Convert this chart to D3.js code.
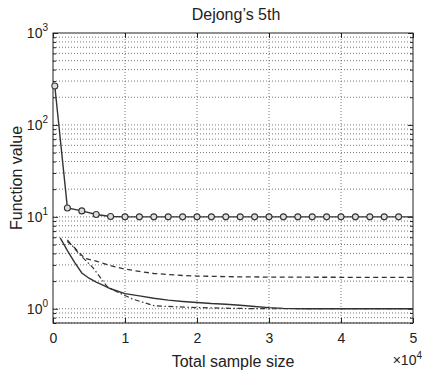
<!DOCTYPE html>
<html>
<head>
<meta charset="utf-8">
<script src="https://cdn.jsdelivr.net/npm/d3@7"></script>
<style>
  body { margin: 0; background: #fff; }
  svg text { font-family: "Liberation Sans", Arial, sans-serif; fill: #222; }
</style>
</head>
<body>
<svg id="chart"></svg>
<script>
// Dejong's 5th - function value vs total sample size
const circleX = [250, 2000, 4000, 6000, 8000, 10000, 12000, 14000, 16000, 18000, 20000, 22000, 24000,
                 26000, 28000, 30000, 32000, 34000, 36000, 38000, 40000, 42000, 44000, 46000, 48000, 50000];
const circleY = [265, 12.5, 11.6, 10.6, 10.1, 10, 10, 10, 10, 10, 10, 10, 10,
                 10, 10, 10, 10, 10, 10, 10, 10, 10, 10, 10, 10, 10];

const solidX = [1000, 2000, 3000, 4000, 5000, 6000, 7000, 8000, 9000, 10000, 12000, 14000, 16000,
                18000, 20000, 22000, 24000, 26000, 28000, 30000, 32000, 35000, 40000, 45000, 50000];
const solidY = [5.9, 4.3, 3.2, 2.45, 2.15, 1.95, 1.8, 1.65, 1.55, 1.46, 1.38, 1.3, 1.24,
                1.2, 1.17, 1.14, 1.12, 1.09, 1.06, 1.03, 1.01, 1.0, 1.0, 1.0, 1.0];

const dashX = [2000, 3000, 4400, 6000, 8000, 10000, 12000, 14000, 16000, 18000, 20000, 25000, 30000, 40000, 50000];
const dashY = [5.4, 4.6, 3.55, 3.3, 2.95, 2.7, 2.55, 2.42, 2.36, 2.3, 2.27, 2.23, 2.21, 2.2, 2.2];

const dashDotX = [2000, 3700, 5600, 7500, 8800, 11000, 14000, 17000, 20000, 25000, 30000, 40000, 50000];
const dashDotY = [5.6, 3.9, 2.77, 1.75, 1.54, 1.28, 1.08, 1.05, 1.03, 1.01, 1.0, 1.0, 1.0];

const xTicks = [0, 10000, 20000, 30000, 40000, 50000];
const xTickLabels = ["0", "1", "2", "3", "4", "5"];
const yTicks = [1, 10, 100, 1000];
const yTickExp = ["0", "1", "2", "3"];

const config = {
    containerWidth: 424,
    containerHeight: 371,
    margin: {top: 33, right: 11, bottom: 48, left: 53}
};

const width = config.containerWidth - config.margin.left - config.margin.right;
const height = config.containerHeight - config.margin.top - config.margin.bottom;

const svg = d3.select('#chart')
    .attr('width', config.containerWidth)
    .attr('height', config.containerHeight);

const chart = svg.append('g')
    .attr('transform', `translate(${config.margin.left}, ${config.margin.top})`);

const xScale = d3.scaleLinear()
    .domain([0, 50000])
    .range([0, width]);

const yScale = d3.scaleLog()
    .domain([0.7, 1000])
    .range([height, 0]);

// minor log grid values (2..9 in each decade, plus below 1)
const minorY = [];
[0.1, 1, 10, 100].forEach(dec => {
    for (let k = 2; k <= 9; k++) {
        const v = dec * k;
        if (v >= 0.7 && v < 1000) minorY.push(v);
    }
});

const gridColor = '#555';

// grid lines
chart.append('g').selectAll('line')
    .data(minorY.concat(yTicks.slice(0, 3)))
    .join('line')
    .attr('x1', 0).attr('x2', width)
    .attr('y1', d => yScale(d)).attr('y2', d => yScale(d))
    .attr('stroke', gridColor)
    .attr('stroke-width', 0.8)
    .attr('stroke-dasharray', '1,2');

chart.append('g').selectAll('line')
    .data(xTicks.slice(1, 5))
    .join('line')
    .attr('x1', d => xScale(d)).attr('x2', d => xScale(d))
    .attr('y1', 0).attr('y2', height)
    .attr('stroke', gridColor)
    .attr('stroke-width', 0.8)
    .attr('stroke-dasharray', '1,2');

// axes: inward ticks, MATLAB style
const xAxisBottom = d3.axisBottom(xScale).tickValues(xTicks).tickSizeInner(-5).tickSizeOuter(0)
    .tickFormat((d, i) => xTickLabels[i]).tickPadding(10);
const xAxisTop = d3.axisTop(xScale).tickValues(xTicks).tickSizeInner(-5).tickSizeOuter(0).tickFormat('');
const yAxisLeft = d3.axisLeft(yScale).tickValues(yTicks).tickSizeInner(-5).tickSizeOuter(0).tickFormat('');
const yAxisRight = d3.axisRight(yScale).tickValues(yTicks).tickSizeInner(-5).tickSizeOuter(0).tickFormat('');
const yMinorLeft = d3.axisLeft(yScale).tickValues(minorY).tickSizeInner(-3).tickSizeOuter(0).tickFormat('');
const yMinorRight = d3.axisRight(yScale).tickValues(minorY).tickSizeInner(-3).tickSizeOuter(0).tickFormat('');

const xg = chart.append('g').attr('transform', `translate(0,${height})`).call(xAxisBottom);
chart.append('g').call(xAxisTop);
chart.append('g').call(yAxisLeft);
chart.append('g').attr('transform', `translate(${width},0)`).call(yAxisRight);
chart.append('g').call(yMinorLeft);
chart.append('g').attr('transform', `translate(${width},0)`).call(yMinorRight);

chart.selectAll('.domain').attr('stroke', 'none');
chart.selectAll('.tick line').attr('stroke', '#222');
xg.selectAll('.tick text').attr('font-size', 14).attr('fill', '#222');

// box
chart.append('rect')
    .attr('width', width).attr('height', height)
    .attr('fill', 'none').attr('stroke', '#222').attr('stroke-width', 1);

// y tick labels as 10^n
const yLab = chart.append('g').selectAll('text')
    .data(yTicks)
    .join('text')
    .attr('x', -5)
    .attr('y', d => yScale(d) + 5)
    .attr('text-anchor', 'end')
    .attr('font-size', 14);
yLab.append('tspan').text('10');
yLab.append('tspan').attr('dy', -7).attr('font-size', 10).text((d, i) => yTickExp[i]);

// lines
const line = (xs, ys) => d3.line()
    .x((d, i) => xScale(xs[i]))
    .y(d => yScale(d))(ys);

const lineColor = '#333';

chart.append('path')
    .attr('d', line(circleX, circleY))
    .attr('fill', 'none').attr('stroke', lineColor).attr('stroke-width', 1.4);

chart.append('path')
    .attr('d', line(solidX, solidY))
    .attr('fill', 'none').attr('stroke', lineColor).attr('stroke-width', 1.4);

chart.append('path')
    .attr('d', line(dashX, dashY))
    .attr('fill', 'none').attr('stroke', lineColor).attr('stroke-width', 1.3)
    .attr('stroke-dasharray', '5,3.5');

chart.append('path')
    .attr('d', line(dashDotX, dashDotY))
    .attr('fill', 'none').attr('stroke', lineColor).attr('stroke-width', 1.2)
    .attr('stroke-dasharray', '5,2.5,1.5,2.5');

// circle markers (all but last point)
chart.append('g').selectAll('circle')
    .data(circleY.slice(0, circleY.length - 1))
    .join('circle')
    .attr('cx', (d, i) => xScale(circleX[i]))
    .attr('cy', d => yScale(d))
    .attr('r', 3)
    .attr('fill', '#ddd')
    .attr('stroke', lineColor)
    .attr('stroke-width', 1.1);

// labels
svg.append('text')
    .attr('x', 236)
    .attr('y', 20)
    .attr('text-anchor', 'middle')
    .attr('font-size', 16)
    .text("Dejong\u2019s 5th");

svg.append('text')
    .attr('x', config.margin.left + width / 2)
    .attr('y', 367)
    .attr('text-anchor', 'middle')
    .attr('font-size', 16)
    .text('Total sample size');

const mult = svg.append('text')
    .attr('x', 422)
    .attr('y', 365)
    .attr('text-anchor', 'end')
    .attr('font-size', 14);
mult.append('tspan').text('\u00d710');
mult.append('tspan').attr('dy', -6).attr('font-size', 10).text('4');

svg.append('text')
    .attr('transform', `translate(22, ${config.margin.top + height / 2}) rotate(-90)`)
    .attr('text-anchor', 'middle')
    .attr('font-size', 16)
    .text('Function value');
</script>
</body>
</html>
